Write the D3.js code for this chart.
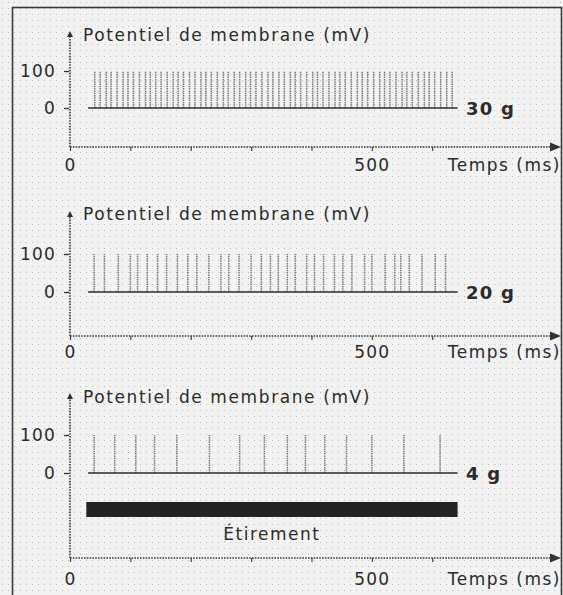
<!DOCTYPE html>
<html>
<head>
<meta charset="utf-8">
<script src="https://cdn.jsdelivr.net/npm/d3@7"></script>
<style>
  html, body { margin: 0; padding: 0; background: #f2f2f2; }
  svg { display: block; }
  text { font-family: "DejaVu Sans", "Liberation Sans", sans-serif; fill: #2b2b2b; }
</style>
</head>
<body>
<svg id="chart" width="563" height="595"></svg>
<script>
// ---- data ----
const yTitle = "Potentiel de membrane (mV)";
const xTitle = "Temps (ms)";
const stretchLabel = "Étirement";
const loads = ["30 g", "20 g", "4 g"];
const xTickValues = [0, 100, 200, 300, 400, 500, 600];
const xTickLabels = { 0: "0", 500: "500" };
const yTickValues = [0, 100];
const restingPotential = 0;   // mV
const spikePeak = 100;        // mV
const baselineSpan = [30, 642];   // ms
const stretchSpan = [27, 642];    // ms
// spike times (ms)
const spikes30 = [41, 50, 60, 68, 78, 88, 96, 105, 115, 125, 133, 142, 151, 161, 171, 179, 188, 198, 207, 217,
  225, 234, 244, 254, 262, 272, 281, 291, 299, 308, 318, 328, 336, 346, 355, 365, 373, 382, 392, 402,
  410, 419, 429, 439, 447, 456, 466, 476, 484, 493, 503, 513, 521, 530, 540, 550, 558, 567, 577, 587,
  595, 604, 614, 624, 633];
const spikes20 = [40, 57, 80, 100, 112, 128, 145, 160, 178, 195, 210, 230, 250, 263, 280, 300, 317, 332,
  345, 360, 373, 392, 405, 420, 438, 452, 467, 488, 500, 522, 538, 548, 562, 583, 605, 622];
const spikes4 = [40, 74, 109, 140, 177, 231, 281, 322, 360, 390, 422, 458, 500, 553, 613];
const spikeSets = [spikes30, spikes20, spikes4];

// ---- layout ----
const W = 563, H = 595;
const svg = d3.select("#chart");
const defs = svg.append("defs");
const pat = defs.append("pattern").attr("id", "dots").attr("width", 6).attr("height", 6)
  .attr("patternUnits", "userSpaceOnUse");
pat.append("rect").attr("x", 2).attr("y", 2).attr("width", 1).attr("height", 1).attr("fill", "#bdbdbd");
defs.append("marker").attr("id", "arrowR").attr("viewBox", "0 0 10 10").attr("refX", 9).attr("refY", 5)
  .attr("markerWidth", 7).attr("markerHeight", 7).attr("orient", "auto")
  .append("path").attr("d", "M0,1 L10,5 L0,9 Z").attr("fill", "#333");

svg.append("rect").attr("width", W).attr("height", H).attr("fill", "#f2f2f2");
svg.append("rect").attr("width", W).attr("height", H).attr("fill", "url(#dots)");
svg.append("rect").attr("x", 12.5).attr("y", 7.5).attr("width", 549).attr("height", 600)
  .attr("fill", "none").attr("stroke", "#3a3a3a").attr("stroke-width", 1.6);

const x = d3.scaleLinear().domain([0, 810]).range([70, 559]);

const panels = [
  { top: 33, titleBase: 41, y100: 71, y0: 108, axisY: 147, pad: 8 },
  { top: 213, titleBase: 220, y100: 254, y0: 292, axisY: 336, pad: 6 },
  { top: 395, titleBase: 403, y100: 435, y0: 473, axisY: 558, pad: 11, stretch: true }
];

panels.forEach((p, i) => {
  const g = svg.append("g");
  const y = d3.scaleLinear().domain([restingPotential, spikePeak]).range([p.y0, p.y100]);

  // y axis line (dotted) with arrow tip
  g.append("line").attr("x1", x(0)).attr("x2", x(0)).attr("y1", p.axisY).attr("y2", p.top)
    .attr("stroke", "#3a3a3a").attr("stroke-width", 1.6).attr("stroke-dasharray", "1.6,1.2");
  g.append("path").attr("d", `M${x(0) - 3},${p.top + 4} L${x(0)},${p.top - 2} L${x(0) + 3},${p.top + 4} Z`)
    .attr("fill", "#333");

  // y ticks
  const ya = d3.axisLeft(y).tickValues(yTickValues).tickSize(5).tickPadding(8).tickFormat(d3.format("d"));
  const yg = g.append("g").attr("transform", `translate(${x(0) - 1},0)`).call(ya);
  yg.select(".domain").remove();
  yg.selectAll(".tick line").attr("stroke", "#333").attr("stroke-width", 1.3);
  yg.selectAll(".tick text").style("font-size", "17px").style("letter-spacing", "1.2px")
    .attr("fill", "#2b2b2b").style("font-family", "DejaVu Sans");

  // y title
  g.append("text").attr("x", 83).attr("y", p.titleBase).text(yTitle)
    .style("font-size", "17px").style("letter-spacing", "1.6px");

  // x axis line with arrow
  g.append("line").attr("x1", x(0)).attr("x2", 560).attr("y1", p.axisY).attr("y2", p.axisY)
    .attr("stroke", "#3a3a3a").attr("stroke-width", 1.6).attr("stroke-dasharray", "1.6,1.2")
    .attr("marker-end", "url(#arrowR)");
  const xa = d3.axisBottom(x).tickValues(xTickValues).tickSize(4).tickPadding(p.pad)
    .tickFormat(d => xTickLabels[d] || "");
  const xg = g.append("g").attr("transform", `translate(0,${p.axisY})`).call(xa);
  xg.select(".domain").remove();
  xg.selectAll(".tick line").attr("stroke", "#444").attr("stroke-width", 1.2);
  xg.selectAll(".tick text").style("font-size", "17px").style("letter-spacing", "1.2px")
    .attr("fill", "#2b2b2b").style("font-family", "DejaVu Sans");
  g.append("text").attr("x", 561).attr("y", p.axisY + 4 + p.pad + 12).attr("text-anchor", "end")
    .text(xTitle).style("font-size", "17px").style("letter-spacing", "1.5px");

  // spikes
  g.selectAll("line.spike").data(spikeSets[i]).join("line").attr("class", "spike")
    .attr("x1", d => x(d)).attr("x2", d => x(d))
    .attr("y1", y(restingPotential)).attr("y2", y(spikePeak))
    .attr("stroke", "#7a7a7a").attr("stroke-width", 1.5).attr("stroke-dasharray", "1.5,0.8");

  // baseline
  g.append("line").attr("x1", x(baselineSpan[0])).attr("x2", x(baselineSpan[1]))
    .attr("y1", y(restingPotential)).attr("y2", y(restingPotential))
    .attr("stroke", "#2a2a2a").attr("stroke-width", 1.7);

  // load label
  g.append("text").attr("x", 466).attr("y", y(restingPotential) + 7).text(loads[i])
    .style("font-size", "18px").style("font-weight", "bold").style("letter-spacing", "1.2px");

  if (p.stretch) {
    g.append("rect").attr("x", x(stretchSpan[0])).attr("y", 502)
      .attr("width", x(stretchSpan[1]) - x(stretchSpan[0])).attr("height", 15).attr("fill", "#222");
    g.append("text").attr("x", (x(stretchSpan[0]) + x(stretchSpan[1])) / 2).attr("y", 540)
      .attr("text-anchor", "middle").text(stretchLabel)
      .style("font-size", "17px").style("letter-spacing", "1.5px");
  }
});
</script>
</body>
</html>
